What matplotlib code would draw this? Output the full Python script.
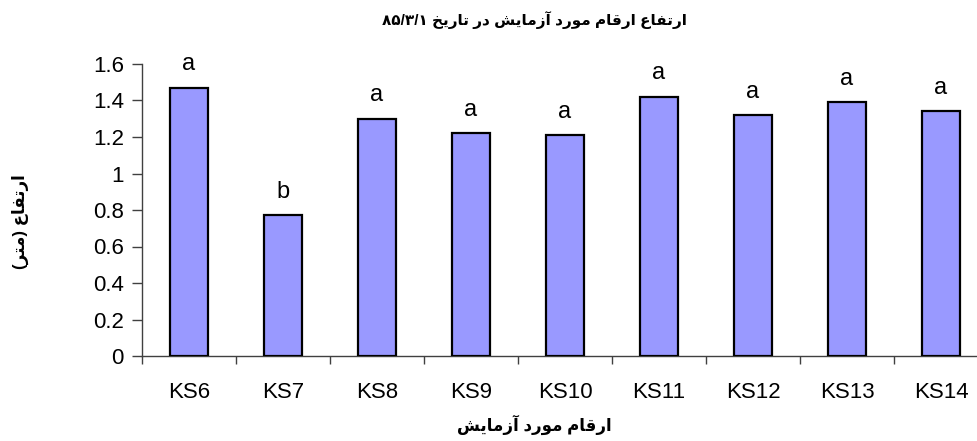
import re
import matplotlib
matplotlib.use("Agg")
import matplotlib.pyplot as plt
import numpy as np
from matplotlib.ticker import FixedLocator, FuncFormatter

cultivars = ["KS6", "KS7", "KS8", "KS9", "KS10", "KS11", "KS12", "KS13", "KS14"]
heights = [1.47, 0.77, 1.30, 1.22, 1.21, 1.42, 1.32, 1.39, 1.34]
groups = ["a", "b", "a", "a", "a", "a", "a", "a", "a"]

title_text = "ارتفاع ارقام مورد آزمايش در تاريخ ۸۵/۳/۱"
xlabel_text = "ارقام مورد آزمايش"
ylabel_text = "ارتفاع (متر)"

plt.rcParams["font.family"] = ["Liberation Sans", "DejaVu Sans"]

# matplotlib does not shape Arabic script, so pick presentation forms by hand
# (isolated, final, initial, medial); two entries = joins only to the right
FORMS = {
    "\u0622": (0xFE81, 0xFE82),
    "\u0627": (0xFE8D, 0xFE8E),
    "\u062A": (0xFE95, 0xFE96, 0xFE97, 0xFE98),
    "\u062E": (0xFEA5, 0xFEA6, 0xFEA7, 0xFEA8),
    "\u062F": (0xFEA9, 0xFEAA),
    "\u0631": (0xFEAD, 0xFEAE),
    "\u0632": (0xFEAF, 0xFEB0),
    "\u0634": (0xFEB5, 0xFEB6, 0xFEB7, 0xFEB8),
    "\u0639": (0xFEC9, 0xFECA, 0xFECB, 0xFECC),
    "\u0641": (0xFED1, 0xFED2, 0xFED3, 0xFED4),
    "\u0642": (0xFED5, 0xFED6, 0xFED7, 0xFED8),
    "\u0645": (0xFEE1, 0xFEE2, 0xFEE3, 0xFEE4),
    "\u0648": (0xFEED, 0xFEEE),
    "\u064A": (0xFEF1, 0xFEF2, 0xFEF3, 0xFEF4),
}


def rtl(text):
    shaped = []
    for i, ch in enumerate(text):
        if ch not in FORMS:
            shaped.append(ch)
            continue
        f = FORMS[ch]
        prev = text[i - 1] if i > 0 else ""
        nxt = text[i + 1] if i + 1 < len(text) else ""
        join_prev = prev in FORMS and len(FORMS[prev]) == 4
        join_next = len(f) == 4 and nxt in FORMS
        if join_prev and join_next:
            shaped.append(chr(f[3]))
        elif join_prev:
            shaped.append(chr(f[1]))
        elif join_next:
            shaped.append(chr(f[2]))
        else:
            shaped.append(chr(f[0]))
    shaped = "".join(shaped)
    # keep number runs left-to-right, reverse the rest
    tokens = re.findall(r"[\u06F0-\u06F90-9]+(?:/[\u06F0-\u06F90-9]+)*|.", shaped)
    mirror = {"(": ")", ")": "("}
    return "".join(mirror.get(t, t) for t in reversed(tokens))


fig = plt.figure(figsize=(9.77, 4.41), dpi=100)
ax = fig.add_axes([142 / 977, 85 / 441, 846 / 977, 292 / 441])

x = np.arange(len(cultivars))
ax.bar(x, heights, width=0.4, color="#9999FF", edgecolor="black", linewidth=1.6, zorder=3)

for xi, h, g in zip(x, heights, groups):
    ax.annotate(g, (xi, h), xytext=(0, 9), textcoords="offset points",
                ha="center", va="bottom", fontsize=17)

ax.set_xlim(-0.5, len(cultivars) - 0.5)
ax.set_ylim(0, 1.6)
ax.set_yticks(np.arange(0, 1.61, 0.2))
ax.yaxis.set_major_formatter(FuncFormatter(lambda v, p: f"{v:g}"))
ax.set_xticks(x)
ax.set_xticklabels(cultivars)
ax.xaxis.set_minor_locator(FixedLocator(np.arange(-0.5, len(cultivars), 1.0)))
ax.tick_params(axis="x", which="major", length=0, pad=19, labelsize=16)
ax.tick_params(axis="x", which="minor", length=6, width=1, color="#404040")
ax.tick_params(axis="y", length=7, width=1, color="#404040", labelsize=16, pad=6)

for side in ["top", "right"]:
    ax.spines[side].set_visible(False)
for side in ["left", "bottom"]:
    ax.spines[side].set_color("#404040")
    ax.spines[side].set_linewidth(1)

fig.text(0.547, 0.955, rtl(title_text), ha="center", va="center",
         fontsize=11, fontweight="bold")
fig.text(0.547, 0.036, rtl(xlabel_text), ha="center", va="center",
         fontsize=12, fontweight="bold")
fig.text(0.021, 0.497, rtl(ylabel_text), ha="center", va="center",
         rotation=90, fontsize=12, fontweight="bold")

fig.savefig("out.png", dpi=100)
